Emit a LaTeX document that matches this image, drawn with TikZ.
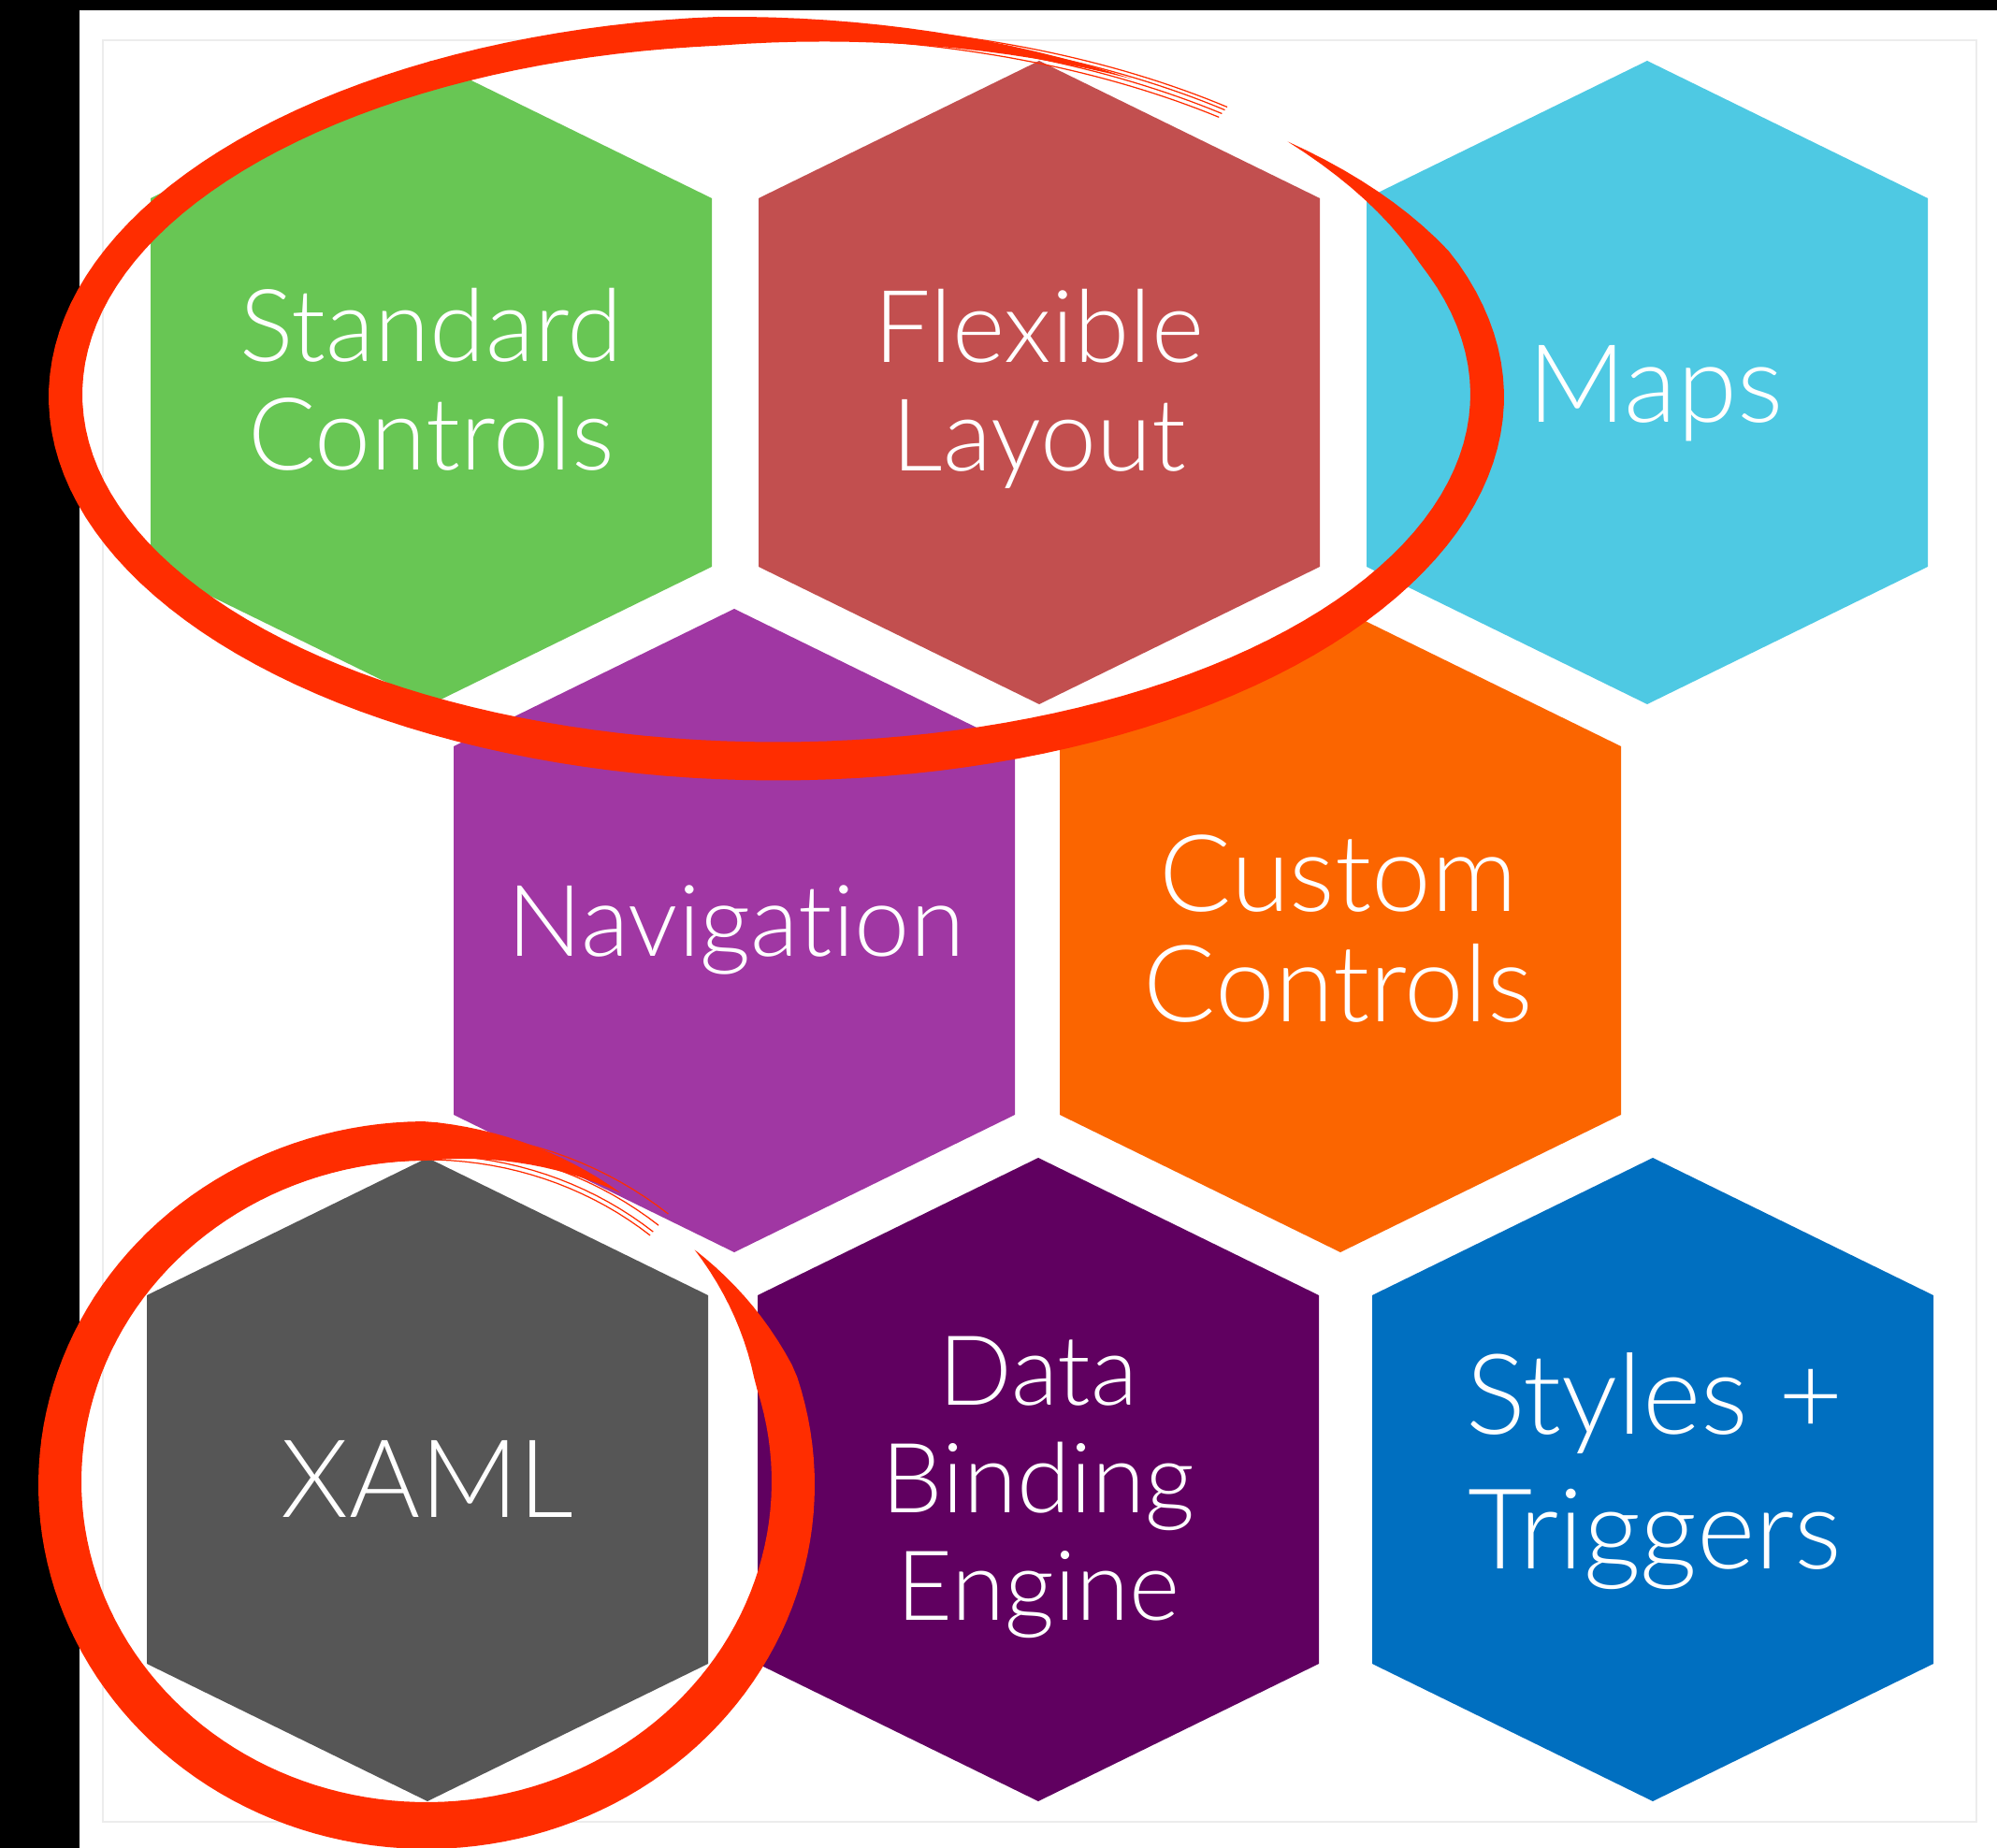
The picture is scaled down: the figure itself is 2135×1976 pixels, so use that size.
\documentclass[tikz,border=0pt]{standalone}
\usepackage{fontspec}
\newfontfamily\hexfont{Lato Light}[Ligatures=NoCommon]
\usetikzlibrary{calc}

\definecolor{stdgreen}{HTML}{68C654}
\definecolor{flexred}{HTML}{C24F4F}
\definecolor{mapsblue}{HTML}{4EC9E3}
\definecolor{navpurple}{HTML}{A037A3}
\definecolor{custorange}{HTML}{FB6500}
\definecolor{xamlgray}{HTML}{565656}
\definecolor{dataplum}{HTML}{600060}
\definecolor{stylesblue}{HTML}{006FC0}
\definecolor{inkred}{HTML}{FF2D00}
\definecolor{framegray}{HTML}{ECECEC}

\begin{document}
\begin{tikzpicture}[x=0.01cm, y=-0.01cm,
    hexlabel/.style 2 args={text=white, align=center, anchor=base, inner sep=0pt,
      font=\hexfont\fontsize{#1}{#2}\selectfont},
    declare function={
      bigw(\t)=(36+5*sin(\t))*min(1,(\t+44)/22)*min(1,max(0,(300-\t)/35));
      smallw(\t)=(46+4*sin(\t))*min(1,(\t+43)/25)*min(1,max(0,(302-\t)/32));
    }]
    \useasboundingbox (0,0) rectangle (2135,1976);
    % Page and black edges
    \fill[white] (0,0) rectangle (2135,1976);
    \fill[black] (0,0) rectangle (85,1976);
    \fill[black] (0,0) rectangle (2135,11);
    \draw[framegray, line width=0.4pt] (110,43) rectangle (2113,1948);

    % Draw the hexagons
    \foreach \nm/\cx/\cy/\col in {std/461/409/stdgreen, flex/1111/409/flexred, maps/1761/409/mapsblue,
        nav/785/995/navpurple, cust/1433/995/custorange,
        xaml/457/1582/xamlgray, data/1110/1582/dataplum, sty/1767/1582/stylesblue}{
      \coordinate (\nm) at (\cx,\cy);
      \fill[\col] (\cx,\cy) ++(0,-344) -- ++(300,147) -- ++(0,394) -- ++(-300,147)
        -- ++(-300,-147) -- ++(0,-394) -- cycle;
    }

    % Labels (base = baseline of the last line)
    \node[hexlabel={30.6pt}{33pt}] (stdtext) at ($(std)+(0,94)$) {Standard\\Controls};
    \node[hexlabel={30.6pt}{33pt}] (flextext) at ($(flex)+(0,95)$) {Flexible\\Layout};
    \node[hexlabel={33pt}{33pt}] (mapstext) at ($(maps)+(9,43)$) {Maps};
    \node[hexlabel={30.2pt}{33pt}] (navtext) at ($(nav)+(2,28)$) {Navigation};
    \node[hexlabel={32.5pt}{33.6pt}] (custtext) at ($(cust)+(-2,98)$) {Custom\\Controls};
    \node[hexlabel={33pt}{33pt}] (xamltext) at ($(xaml)+(0,40)$) {XAML};
    \node[hexlabel={29.5pt}{32.7pt}] (datatext) at ($(data)+(0,150)$) {Data\\Binding\\Engine};
    \node[hexlabel={34pt}{40.7pt}] (stytext) at ($(sty)+(2,95)$) {Styles +\\Triggers};

    % Brush ring round the top pair
    \fill[inkred] plot[domain=-44:300, samples=160] ({830+(760+bigw(\x)/2)*cos(\x)}, {423+(391+bigw(\x)/2)*sin(\x)})
      -- plot[domain=300:-44, samples=160] ({830+(760-bigw(\x)/2)*cos(\x)}, {423+(391-bigw(\x)/2)*sin(\x)}) -- cycle;
    \foreach \o in {-8,-3,2,6}
      \draw[inkred, line width=0.35pt] plot[domain=255:309, samples=50] ({830+(760+\o)*cos(\x)}, {423+(391+\o)*sin(\x)});

    % Brush ring round XAML
    \fill[inkred] plot[domain=-43:302, samples=160] ({456+(392+smallw(\x)/2)*cos(\x)}, {1586+(366+smallw(\x)/2)*sin(\x)})
      -- plot[domain=302:-43, samples=160] ({456+(392-smallw(\x)/2)*cos(\x)}, {1586+(366-smallw(\x)/2)*sin(\x)}) -- cycle;
    \foreach \o in {-20,-15,-6,10}
      \draw[inkred, line width=0.35pt] plot[domain=200:310, samples=50] ({456+(392+\o)*cos(\x)}, {1586+(366+\o)*sin(\x)});
\end{tikzpicture}
\end{document}
